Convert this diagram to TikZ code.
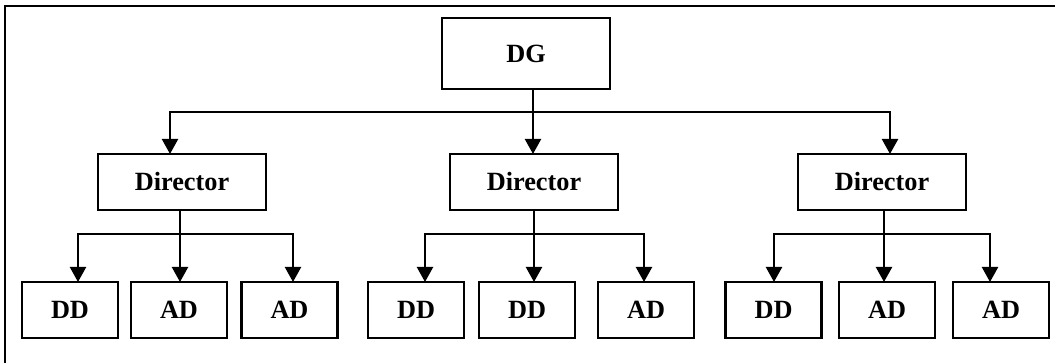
\documentclass[tikz,border=0pt]{standalone}
\usepackage{fontspec}
\setmainfont{Liberation Serif}
\usepackage{tikz}
\usetikzlibrary{arrows.meta}

\begin{document}
\begin{tikzpicture}[x=1pt, y=-1pt,
    line width = 2.2pt,
   BOX/.style = {draw, inner sep=0pt, outer sep=0pt,
                 font=\fontsize{26.3}{30}\selectfont\bfseries},
   DIR/.style = {BOX, minimum width=168pt, minimum height=56pt},
   SUB/.style = {BOX, minimum width=96pt, minimum height=56pt},
   ARR/.style = {-{Triangle[length=15pt, width=16pt]}}
                    ]
\useasboundingbox (0,0) rectangle (1055,363);
% frame
\draw (5,363) -- (5,6) -- (1055,6);
% top
\node (dg) [BOX, minimum width=168pt, minimum height=71pt] at (526,53.5) {DG};
% directors
\node (d1) [DIR] at (182,182) {Director};
\node (d2) [DIR] at (534,182) {Director};
\node (d3) [DIR] at (882,182) {Director};
% bottom row
\node (b1) [SUB] at (70,310)    {DD};
\node (b2) [SUB] at (179,310)   {AD};
\node (b3) [SUB] at (289.5,310) {AD};
\node (b4) [SUB] at (416,310)   {DD};
\node (b5) [SUB] at (527,310)   {DD};
\node (b6) [SUB] at (646,310)   {AD};
\node (b7) [SUB] at (773.5,310) {DD};
\node (b8) [SUB] at (887,310)   {AD};
\node (b9) [SUB] at (1001,310)  {AD};
% DG -> directors
\coordinate (top) at (533,112);
\draw[ARR] ([xshift=7pt]dg.south) -- ([xshift=-1pt]d2.north);
\draw[ARR] (top) -| ([xshift=-12pt]d1.north);
\draw[ARR] (top) -| ([xshift=8pt]d3.north);
% directors -> bottom row
\coordinate (g1) at (180,234);
\draw[ARR] ([xshift=-2pt]d1.south) -- ([xshift=1pt]b2.north);
\draw[ARR] (g1) -| ([xshift=8pt]b1.north);
\draw[ARR] (g1) -| ([xshift=3.5pt]b3.north);
\coordinate (g2) at (534,234);
\draw[ARR] (d2.south) -- ([xshift=7pt]b5.north);
\draw[ARR] (g2) -| ([xshift=9pt]b4.north);
\draw[ARR] (g2) -| ([xshift=-2pt]b6.north);
\coordinate (g3) at (884,234);
\draw[ARR] ([xshift=2pt]d3.south) -- ([xshift=-3pt]b8.north);
\draw[ARR] (g3) -| ([xshift=0.5pt]b7.north);
\draw[ARR] (g3) -| ([xshift=-11pt]b9.north);
\end{tikzpicture}
\end{document}
